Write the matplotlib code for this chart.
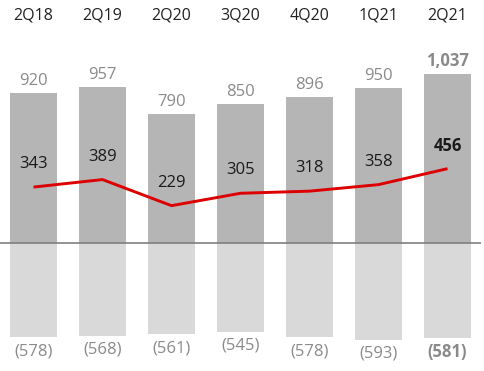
import matplotlib
matplotlib.use("Agg")
import matplotlib.pyplot as plt

categories = ["2Q18", "2Q19", "2Q20", "3Q20", "4Q20", "1Q21", "2Q21"]
revenue = [920, 957, 790, 850, 896, 950, 1037]
costs = [-578, -568, -561, -545, -578, -593, -581]
result = [343, 389, 229, 305, 318, 358, 456]
revenue_labels = ["920", "957", "790", "850", "896", "950", "1,037"]
cost_labels = ["(578)", "(568)", "(561)", "(545)", "(578)", "(593)", "(581)"]

plt.rcParams['font.family'] = ['Open Sans', 'DejaVu Sans']

W, H = 484, 371
fig = plt.figure(figsize=(W / 100, H / 100), dpi=100)
ax = fig.add_axes([0, 0, 481 / W, 1])

scale = 150 / 920  # px per unit
zero_px = 243
ax.set_ylim(-(H - zero_px) / scale, zero_px / scale)
ax.set_xlim(-33.5 / 69, (481 - 33.5) / 69)

x = list(range(len(categories)))
ax.bar(x, revenue, width=0.68, color="#b5b5b5", zorder=1)
ax.bar(x, costs, width=0.68, color="#d9d9d9", zorder=1)
ax.axhline(0, color="#808080", lw=1.2, zorder=2)
ax.plot(x, result, color="#dd0000", lw=2.1, zorder=3, solid_capstyle="butt")

n = len(categories)
for i in range(n):
    last = i == n - 1
    ax.annotate(revenue_labels[i], (x[i], revenue[i]), xytext=(0, 4), textcoords="offset pixels",
                ha="center", va="bottom", fontsize=12, color="#8a8a8a",
                fontweight="bold" if last else "normal")
    ax.annotate(cost_labels[i], (x[i], costs[i]), xytext=(0, -14), textcoords="offset pixels",
                ha="center", va="center", fontsize=12, color="#8a8a8a",
                fontweight="bold" if last else "normal")
    ax.annotate(str(result[i]), (x[i], result[i]), xytext=(0, 23), textcoords="offset pixels",
                ha="center", va="center", fontsize=12, color="#1a1a1a",
                fontweight="bold" if last else "normal")
    ax.text(x[i], zero_px / scale - 15 / scale, categories[i], ha="center", va="center",
            fontsize=11.5, color="#222222")

ax.axis("off")
fig.savefig("out.png", dpi=100)
